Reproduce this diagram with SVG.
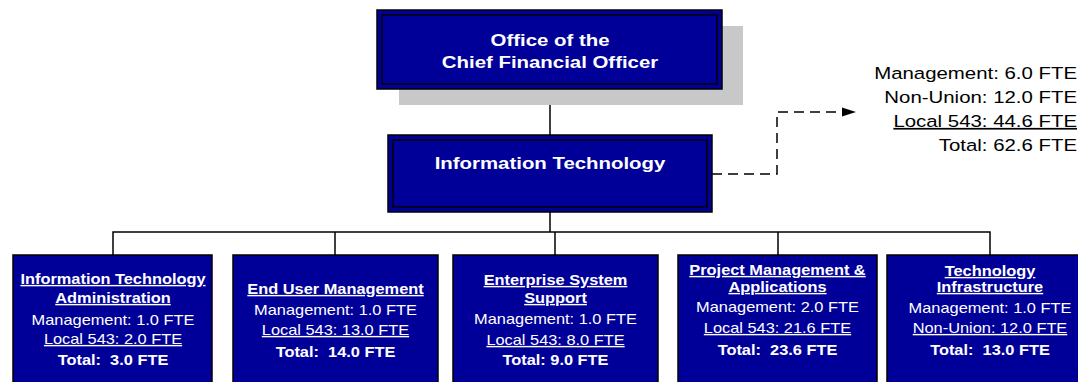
<svg xmlns="http://www.w3.org/2000/svg" width="1078" height="382" viewBox="0 0 1078 382">
  <defs>
    <style>
      .shadow { fill: #c8c8c8; }
      .box { fill: #000099; stroke: #000; stroke-width: 1.5; }
      .rim { fill: none; stroke: #000; stroke-width: 1.5; }
      .line { fill: none; stroke: #000; stroke-width: 1.5; }
      .dash { fill: none; stroke: #000; stroke-width: 1.5; stroke-dasharray: 10 6; }
      .t { font-family: "Liberation Sans", Arial, sans-serif; fill: #fff; text-anchor: middle; white-space: pre; }
      .lg { font-size: 17px; }
      .sm { font-size: 14px; }
      .b { font-weight: bold; }
      .u { text-decoration: underline; }
      .side { fill: #000; text-anchor: end; }
    </style>
    <marker id="arrow" viewBox="0 0 14 10" refX="14" refY="5" markerWidth="14" markerHeight="10" markerUnits="userSpaceOnUse" orient="auto">
      <path d="M0,0.5 L14,5 L0,9.5 z" fill="#000"/>
    </marker>
  </defs>

  <!-- connectors -->
  <g id="connectors">
    <path class="line" d="M550,89 V135"/>
    <path class="line" d="M550,212 V232"/>
    <path class="line" d="M113,255 V232 H990 V255"/>
    <path class="line" d="M335,232 V255"/>
    <path class="line" d="M555,232 V255"/>
    <path class="line" d="M778,232 V255"/>
    <path class="dash" d="M712,174 H777 V112 H856" marker-end="url(#arrow)"/>
  </g>

  <!-- Office of the CFO -->
  <g id="cfo">
    <rect class="shadow" x="399" y="26" width="344" height="79"/>
    <rect class="box" x="377" y="10" width="345" height="79"/>
    <rect class="rim" x="382" y="15" width="335" height="69"/>
    <g transform="translate(550 0) scale(1.2 1)">
      <text class="t lg b" x="0" y="46">Office of the</text>
      <text class="t lg b" x="0" y="68">Chief Financial Officer</text>
    </g>
  </g>

  <!-- Information Technology -->
  <g id="it">
    <rect class="box" x="388" y="135" width="324" height="77"/>
    <rect class="rim" x="393" y="140" width="314" height="67"/>
    <g transform="translate(550 0) scale(1.2 1)">
      <text class="t lg b" x="0" y="169">Information Technology</text>
    </g>
  </g>

  <!-- staffing summary -->
  <g id="summary" transform="translate(1077 0) scale(1.2 1)">
    <text class="t lg side" x="0" y="79">Management: 6.0 FTE</text>
    <text class="t lg side" x="0" y="103">Non-Union: 12.0 FTE</text>
    <text class="t lg side u" x="0" y="127">Local 543: 44.6 FTE</text>
    <text class="t lg side" x="0" y="151">Total: 62.6 FTE</text>
  </g>

  <!-- divisions -->
  <g id="admin">
    <rect class="box" x="13" y="255" width="199" height="140"/>
    <g transform="translate(113 0) scale(1.17 1)">
      <text class="t sm b u" x="0" y="284">Information Technology</text>
      <text class="t sm b u" x="0" y="303">Administration</text>
      <text class="t sm" x="0" y="325">Management: 1.0 FTE</text>
      <text class="t sm u" x="0" y="344">Local 543: 2.0 FTE</text>
      <text class="t sm b" x="0" y="365">Total:  3.0 FTE</text>
    </g>
  </g>

  <g id="enduser">
    <rect class="box" x="233" y="255" width="205" height="140"/>
    <g transform="translate(335.5 0) scale(1.17 1)">
      <text class="t sm b u" x="0" y="294">End User Management</text>
      <text class="t sm" x="0" y="315">Management: 1.0 FTE</text>
      <text class="t sm u" x="0" y="335">Local 543: 13.0 FTE</text>
      <text class="t sm b" x="0" y="357">Total:  14.0 FTE</text>
    </g>
  </g>

  <g id="enterprise">
    <rect class="box" x="453" y="255" width="205" height="140"/>
    <g transform="translate(555.5 0) scale(1.17 1)">
      <text class="t sm b u" x="0" y="285">Enterprise System</text>
      <text class="t sm b u" x="0" y="303">Support</text>
      <text class="t sm" x="0" y="324">Management: 1.0 FTE</text>
      <text class="t sm u" x="0" y="345">Local 543: 8.0 FTE</text>
      <text class="t sm b" x="0" y="365">Total: 9.0 FTE</text>
    </g>
  </g>

  <g id="projects">
    <rect class="box" x="678" y="255" width="199" height="140"/>
    <g transform="translate(777.5 0) scale(1.17 1)">
      <text class="t sm b u" x="0" y="275">Project Management &amp;</text>
      <text class="t sm b u" x="0" y="292">Applications</text>
      <text class="t sm" x="0" y="312">Management: 2.0 FTE</text>
      <text class="t sm u" x="0" y="333">Local 543: 21.6 FTE</text>
      <text class="t sm b" x="0" y="355">Total:  23.6 FTE</text>
    </g>
  </g>

  <g id="infrastructure">
    <rect class="box" x="887" y="255" width="206" height="140"/>
    <g transform="translate(990 0) scale(1.17 1)">
      <text class="t sm b u" x="0" y="276">Technology</text>
      <text class="t sm b u" x="0" y="292">Infrastructure</text>
      <text class="t sm" x="0" y="313">Management: 1.0 FTE</text>
      <text class="t sm u" x="0" y="333">Non-Union: 12.0 FTE</text>
      <text class="t sm b" x="0" y="355">Total:  13.0 FTE</text>
    </g>
  </g>
</svg>
